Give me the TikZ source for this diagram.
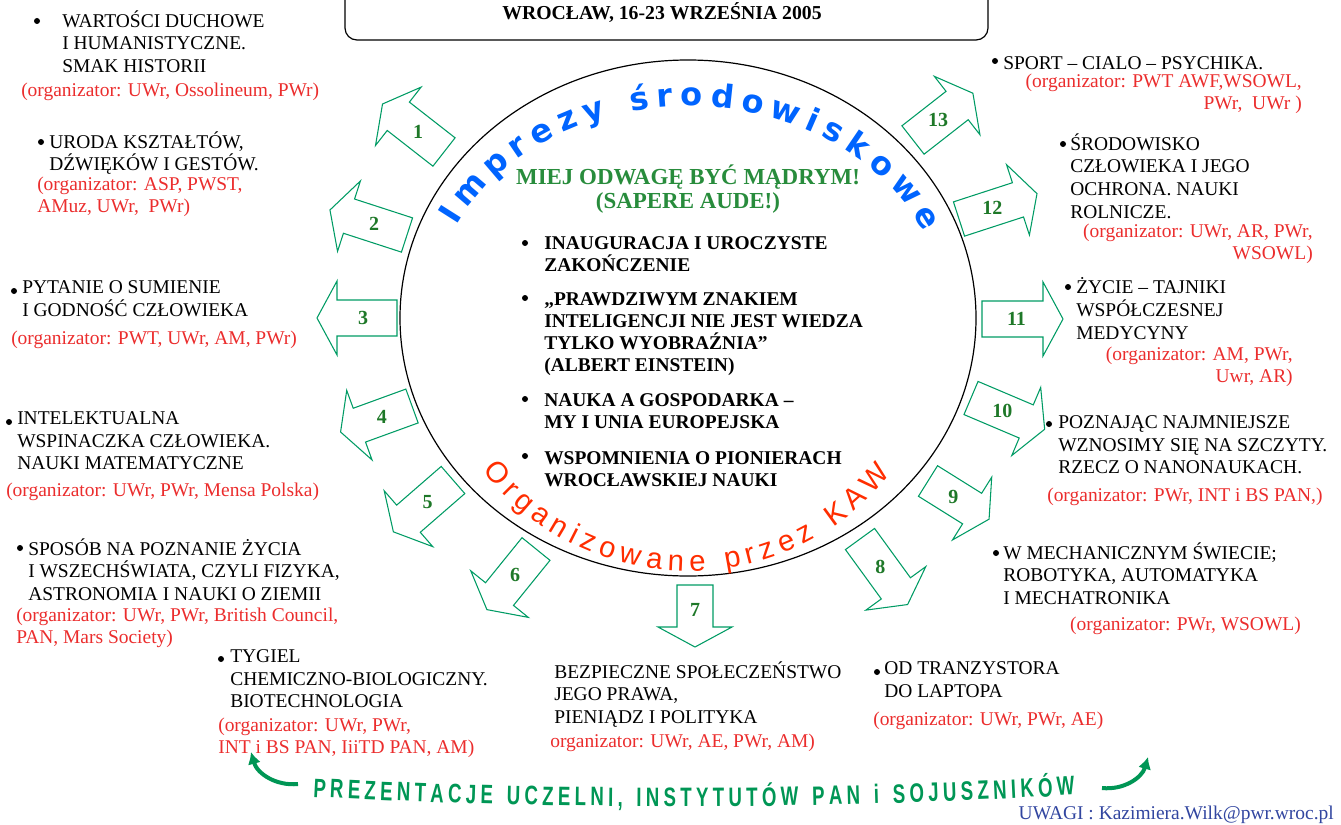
\documentclass[tikz,border=0pt]{standalone}
\usepackage{fontspec}
\setmainfont{Liberation Serif}
\newfontfamily\artfont{DejaVu Sans}
\newfontfamily\kawfont{Liberation Sans}
\newfontfamily\prezfont[FakeStretch=0.7]{Liberation Sans}
\usepackage{tikz}
\usetikzlibrary{positioning,decorations.text,arrows.meta}

\definecolor{arrowgreen}{RGB}{0,155,100}
\definecolor{numgreen}{RGB}{30,120,40}
\definecolor{mottogreen}{RGB}{40,140,60}
\definecolor{orgred}{RGB}{235,45,45}
\definecolor{kawred}{RGB}{255,45,0}
\definecolor{artblue}{RGB}{0,100,255}
\definecolor{prezgreen}{RGB}{0,150,85}
\definecolor{mailblue}{RGB}{50,70,160}

\tikzset{
  topic/.style={anchor=north west, yshift=11.75pt, align=left, inner sep=0pt,
    font=\fontsize{14.6}{17}\selectfont, execute at begin node={\rule{0pt}{14pt}}},
  org/.style={topic, text=orgred},
  orgright/.style={org, anchor=north east, align=right},
  bullet/.style={circle, fill=black, inner sep=0pt, minimum size=4.5pt},
  item/.style={topic, yshift=-3pt, font=\bfseries\fontsize{14.6}{16.6}\selectfont},
  blockarrow/.style={draw=arrowgreen, line width=0.8pt},
  num/.style={inner sep=0pt, text=numgreen, font=\bfseries\fontsize{15}{15}\selectfont},
  bendarrow/.style={draw=prezgreen, line width=3pt, -{Latex[length=9pt,width=10pt]}},
}

\begin{document}
\begin{tikzpicture}[x=0.75pt, y=0.75pt]
  \useasboundingbox (0,0) rectangle (1341,-824);

  % Title box and ellipse
  \draw[line width=0.9pt, rounded corners=9pt] (345,20) rectangle (988,-40);
  \node[anchor=base, inner sep=0pt, font=\bfseries\fontsize{14.8}{16}\selectfont] (city) at (662,-20) {WROCŁAW, 16-23 WRZEŚNIA 2005};
  \draw[line width=0.9pt] (688,-318) ellipse[x radius=288, y radius=258];

  % Texts along the ellipse
  \path[decorate, decoration={text along path, text align={fit to path},
      text={|\artfont\bfseries\fontsize{24}{24}\selectfont\color{artblue}|Imprezy środowiskowe}}]
    (688,-318) ++(154:258 and 212) arc[start angle=154, end angle=24, x radius=258, y radius=212];
  \path[decorate, decoration={text along path, text align={fit to path},
      text={|\kawfont\fontsize{22}{22}\selectfont\color{kawred}|Organizowane przez KAW}}]
    (688,-318) ++(217:257 and 253) arc[start angle=217, end angle=322, x radius=257, y radius=253];

  % Block arrows: number/tail x/tail y/angle/shaft length
  \foreach \n/\x/\y/\a/\l in {1/444/152/142/58, 2/407/235/162/61, 3/397/318/180/60,
      4/412/406/200/56, 5/453/480/221/59, 6/536/549/231/58, 7/695/585/270/42,
      8/860/539/306/61, 9/928/481/328/52, 10/971/398/337/60, 11/982/319/0/61,
      12/959/219/18/62, 13/913/140/38/56}{
    \begin{scope}[shift={(\x,-\y)}, rotate=\a]
      \draw[blockarrow] (0,18) -- (\l,18) -- (\l,37) -- (\l+20,0) -- (\l,-37) -- (\l,-18) -- (0,-18) -- cycle;
      \node[num] (a\n) at (\l/2+4,0) {\n};
    \end{scope}
  }

  % Motto and main events
  \node[anchor=base, align=center, inner sep=0pt, text=mottogreen, font=\bfseries\fontsize{17.2}{17.6}\selectfont] (motto) at (688,-208) {MIEJ ODWAGĘ BYĆ MĄDRYM!\\(SAPERE AUDE!)};
  \node[item] (inaug) at (544,-248) {INAUGURACJA I UROCZYSTE\\ZAKOŃCZENIE};
  \node[item] (einstein) at (544,-304) {„PRAWDZIWYM ZNAKIEM\\INTELIGENCJI NIE JEST WIEDZA\\TYLKO WYOBRAŹNIA”\\(ALBERT EINSTEIN)};
  \node[item] (gosp) at (544,-405) {NAUKA A GOSPODARKA –\\MY I UNIA EUROPEJSKA};
  \node[item] (pion) at (544,-463) {WSPOMNIENIA O PIONIERACH\\WROCŁAWSKIEJ NAUKI};

  % Bullets
  \foreach \i/\x/\y in {1/37/21, 2/41/142, 3/14/291, 4/9/422, 5/20/548, 6/221/659,
      7/877/672, 8/996/553, 9/1049/424, 10/1068/287, 11/1063/144, 12/995/61,
      13/525/243, 14/525/298, 15/525/399, 16/525/456}
    \node[bullet] (b\i) at (\x,-\y) {};

  % Topics, left side
  \node[topic] (wart) at (62,-26) {WARTOŚCI DUCHOWE\\I HUMANISTYCZNE.\\SMAK HISTORII};
  \node[org] (wartorg) at (21,-93) {(organizator: UWr, Ossolineum, PWr)};
  \node[topic] (uroda) at (49,-147) {URODA KSZTAŁTÓW,\\DŹWIĘKÓW I GESTÓW.};
  \node[org] (urodaorg) at (37,-192) {(organizator: ASP, PWST,\\AMuz, UWr,~ PWr)};
  \node[topic] (pytanie) at (22,-296) {PYTANIE O SUMIENIE\\I GODNOŚĆ CZŁOWIEKA};
  \node[org] (pytanieorg) at (11,-341) {(organizator: PWT, UWr, AM, PWr)};
  \node[topic] (intel) at (17,-427) {INTELEKTUALNA\\WSPINACZKA CZŁOWIEKA.\\NAUKI MATEMATYCZNE};
  \node[org] (intelorg) at (6,-493) {(organizator: UWr, PWr, Mensa Polska)};
  \node[topic] (sposob) at (28,-554) {SPOSÓB NA POZNANIE ŻYCIA\\I WSZECHŚWIATA, CZYLI FIZYKA,\\ASTRONOMIA I NAUKI O ZIEMII};
  \node[org] (sposoborg) at (16,-623) {(organizator: UWr, PWr, British Council,\\PAN, Mars Society)};
  \node[topic] (tygiel) at (230,-665) {TYGIEL\\CHEMICZNO-BIOLOGICZNY.\\BIOTECHNOLOGIA};
  \node[org] (tygielorg) at (218,-733) {(organizator: UWr, PWr,\\INT i BS PAN, IiiTD PAN, AM)};

  % Topics, bottom
  \node[topic] (bezp) at (554,-677) {BEZPIECZNE SPOŁECZEŃSTWO\\JEGO PRAWA,\\PIENIĄDZ I POLITYKA};
  \node[org] (bezporg) at (550,-744) {organizator: UWr, AE, PWr, AM)};
  \node[topic] (tranz) at (884,-677) {OD TRANZYSTORA\\DO LAPTOPA};
  \node[org] (tranzorg) at (873,-722) {(organizator: UWr, PWr, AE)};

  % Topics, right side
  \node[topic] (mech) at (1003,-558) {W MECHANICZNYM ŚWIECIE;\\ROBOTYKA, AUTOMATYKA\\I MECHATRONIKA};
  \node[orgright] (mechorg) at (1301,-627) {(organizator: PWr, WSOWL)};
  \node[topic] (pozn) at (1058,-431) {POZNAJĄC NAJMNIEJSZE\\WZNOSIMY SIĘ NA SZCZYTY.\\RZECZ O NANONAUKACH.};
  \node[org] (poznorg) at (1047,-498) {(organizator: PWr, INT i BS PAN,)};
  \node[topic] (zycie) at (1076,-293) {ŻYCIE – TAJNIKI\\WSPÓŁCZESNEJ\\MEDYCYNY};
  \node[orgright] (zycieorg) at (1293,-362) {(organizator: AM, PWr,\\Uwr, AR)};
  \node[topic] (srod) at (1070,-149) {ŚRODOWISKO\\CZŁOWIEKA I JEGO\\OCHRONA. NAUKI\\ROLNICZE.};
  \node[orgright] (srodorg) at (1313,-239) {(organizator: UWr, AR, PWr,\\WSOWL)};
  \node[topic] (sport) at (1003,-66) {SPORT – CIALO – PSYCHIKA.};
  \node[orgright] (sportorg) at (1302,-89) {(organizator: PWT AWF,WSOWL,\\PWr,~ UWr~)};

  % Presentations banner
  \path[decorate, decoration={text along path, text align={fit to path},
      text={|\prezfont\bfseries\fontsize{20}{20}\selectfont\color{prezgreen}|PREZENTACJE UCZELNI, INSTYTUTÓW PAN i SOJUSZNIKÓW}}]
    (313,-797) .. controls (560,-810) and (820,-810) .. (1074,-795);
  \coordinate (lstart) at (298,-784);
  \coordinate (lend) at (251,-752);
  \coordinate (rstart) at (1102,-788);
  \coordinate (rend) at (1148,-757);
  \draw[bendarrow] (lstart) to[bend left=40] (lend);
  \draw[bendarrow] (rstart) to[bend right=40] (rend);

  \node[anchor=base east, inner sep=0pt, text=mailblue, font=\fontsize{14.6}{16}\selectfont] (uwagi) at (1334,-819) {UWAGI : Kazimiera.Wilk@pwr.wroc.pl};
\end{tikzpicture}
\end{document}
